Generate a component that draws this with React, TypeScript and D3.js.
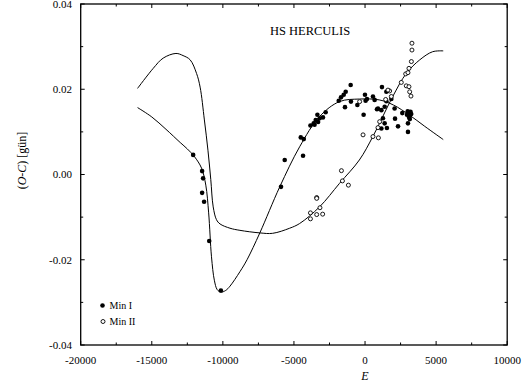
import React from "react";
import * as d3 from "d3";

// Epoch (E) and O-C residuals (days) for HS Her
const minI: [number, number][] = [
  [-12090, 0.0046], [-11460, 0.0008], [-11390, -0.0009], [-11460, -0.0043],
  [-11320, -0.0064], [-10960, -0.0156], [-10140, -0.0272],
  [-5910, -0.0029], [-5650, 0.0034], [-4360, 0.0044], [-4520, 0.0087],
  [-4310, 0.0083], [-3840, 0.0115], [-3610, 0.012], [-3470, 0.0128],
  [-3350, 0.014], [-3190, 0.0132], [-2960, 0.0134], [-2770, 0.0146],
  [-3300, 0.0123], [-3550, 0.0117],
  [-1850, 0.0173], [-1690, 0.0181], [-1500, 0.0187], [-1360, 0.0194],
  [-1010, 0.021], [-1410, 0.0158], [-990, 0.0171], [-540, 0.0163],
  [-100, 0.014], [-4, 0.0187], [136, 0.0177], [40, 0.0173], [558, 0.0183],
  [675, 0.0175], [840, 0.0153], [1190, 0.0205], [910, 0.0155], [1150, 0.0151],
  [1380, 0.0159], [1500, 0.0172], [1500, 0.0194], [1850, 0.0177],
  [1260, 0.0132], [1380, 0.012], [1150, 0.0108], [1540, 0.0109],
  [2080, 0.0155], [2110, 0.0131], [2320, 0.0113], [2620, 0.0144],
  [3020, 0.01], [3020, 0.012], [2950, 0.014], [3050, 0.0145], [3150, 0.0138],
  [3250, 0.0142], [3100, 0.0134], [3200, 0.0147], [3000, 0.0148], [3150, 0.013],
];

const minII: [number, number][] = [
  [-3840, -0.0104], [-3840, -0.009], [-3400, -0.0094], [-2980, -0.0093],
  [-3170, -0.0078], [-3400, -0.0054], [-3400, -0.0056],
  [-1660, 0.0009], [-1590, -0.0015], [-1170, -0.0025],
  [-380, 0.0171], [-140, 0.0093], [558, 0.0089], [940, 0.0086], [910, 0.011],
  [1030, 0.0124], [1730, 0.0196], [1612, 0.0198], [1850, 0.0183], [1450, 0.0176],
  [2550, 0.0216], [2900, 0.0208], [3090, 0.0206], [3140, 0.0194], [3230, 0.0184],
  [2860, 0.0236], [3020, 0.0239], [3090, 0.0249], [3260, 0.0265],
  [3300, 0.0292], [3300, 0.0308],
];

// Fitted O-C model for primary minima
const fitI: [number, number][] = [
  [-16000, 0.0157], [-15000, 0.0135], [-14000, 0.0106], [-13000, 0.0075],
  [-12500, 0.006], [-12000, 0.0042], [-11500, 0.0015], [-11200, -0.0025],
  [-11000, -0.009], [-10800, -0.0193], [-10600, -0.0248], [-10400, -0.027],
  [-10150, -0.0276], [-9800, -0.0272], [-9500, -0.0262], [-8800, -0.0228],
  [-8300, -0.02], [-7400, -0.0137], [-6000, -0.0029], [-4600, 0.0065],
  [-3200, 0.0136], [-1800, 0.0171], [-400, 0.0177], [1000, 0.0175],
  [2000, 0.0163], [3100, 0.014], [4200, 0.0113], [5500, 0.0082],
];

// Fitted O-C model for secondary minima
const fitII: [number, number][] = [
  [-16000, 0.0202], [-14900, 0.0249], [-14200, 0.0273], [-13300, 0.0284],
  [-12800, 0.0279], [-12300, 0.0269], [-11850, 0.0237], [-11600, 0.0205],
  [-11300, 0.0128], [-11050, 0.0057], [-10850, -0.0012], [-10680, -0.0076],
  [-10450, -0.0106], [-10200, -0.0116], [-9500, -0.0126], [-8800, -0.0131],
  [-7400, -0.0137], [-6500, -0.0138], [-5300, -0.0126], [-4600, -0.0115],
  [-3200, -0.0076], [-1800, -0.0021], [-400, 0.0034], [550, 0.0089],
  [1950, 0.0183], [2900, 0.0237], [3850, 0.0269], [4750, 0.0288], [5500, 0.029],
];

const xTicks = [-20000, -15000, -10000, -5000, 0, 5000, 10000];
const xMinor = [-17500, -12500, -7500, -2500, 2500, 7500];
const yTicks = [-0.04, -0.02, 0, 0.02, 0.04];
const yMinor = [-0.03, -0.01, 0.01, 0.03];

const W = 526;
const H = 383;
const left = 80.7;
const right = 507.2;
const top = 4;
const bottom = 345;
const font = "'Liberation Serif', 'Times New Roman', Times, 'DejaVu Serif', serif";

export default function App() {
  const x = d3.scaleLinear().domain([-20000, 10000]).range([left, right]);
  const y = d3.scaleLinear().domain([-0.04, 0.04]).range([bottom, top]);
  const line = d3
    .line<[number, number]>()
    .x((d) => x(d[0]))
    .y((d) => y(d[1]))
    .curve(d3.curveCatmullRom.alpha(0.5));

  const major = 4;
  const minor = 2.5;

  return (
    <svg
      width={W}
      height={H}
      style={{ position: "fixed", left: 0, top: 0, background: "#fff", fontFamily: font }}
    >
      <rect x={0} y={0} width={W} height={H} fill="#fff" />
      {/* fitted curves */}
      <path d={line(fitI) || ""} fill="none" stroke="#000" strokeWidth={1} />
      <path d={line(fitII) || ""} fill="none" stroke="#000" strokeWidth={1} />

      {/* observations */}
      {minI.map((d, i) => (
        <circle key={"a" + i} cx={x(d[0])} cy={y(d[1])} r={2.3} fill="#000" />
      ))}
      {minII.map((d, i) => (
        <circle
          key={"b" + i}
          cx={x(d[0])}
          cy={y(d[1])}
          r={2}
          fill="#fff"
          stroke="#000"
          strokeWidth={0.9}
        />
      ))}

      {/* frame */}
      <rect
        x={left}
        y={top}
        width={right - left}
        height={bottom - top}
        fill="none"
        stroke="#000"
        strokeWidth={1.3}
      />

      {/* x ticks */}
      {xTicks.map((t) => (
        <g key={"xt" + t}>
          <line x1={x(t)} x2={x(t)} y1={bottom} y2={bottom - major} stroke="#000" />
          <line x1={x(t)} x2={x(t)} y1={top} y2={top + major} stroke="#000" />
          <text x={x(t)} y={364} fontSize={11} textAnchor="middle">
            {t}
          </text>
        </g>
      ))}
      {xMinor.map((t) => (
        <g key={"xm" + t}>
          <line x1={x(t)} x2={x(t)} y1={bottom} y2={bottom - minor} stroke="#000" />
          <line x1={x(t)} x2={x(t)} y1={top} y2={top + minor} stroke="#000" />
        </g>
      ))}

      {/* y ticks */}
      {yTicks.map((t) => (
        <g key={"yt" + t}>
          <line x1={left} x2={left + major} y1={y(t)} y2={y(t)} stroke="#000" />
          <line x1={right} x2={right - major} y1={y(t)} y2={y(t)} stroke="#000" />
          <text x={72} y={y(t) + 3.8} fontSize={11} textAnchor="end">
            {t.toFixed(2)}
          </text>
        </g>
      ))}
      {yMinor.map((t) => (
        <g key={"ym" + t}>
          <line x1={left} x2={left + minor} y1={y(t)} y2={y(t)} stroke="#000" />
          <line x1={right} x2={right - minor} y1={y(t)} y2={y(t)} stroke="#000" />
        </g>
      ))}

      {/* axis titles */}
      <text x={x(0)} y={380} fontSize={12} fontStyle="italic" textAnchor="middle">
        E
      </text>
      <text
        transform={`translate(26, ${y(0) - 14}) rotate(-90)`}
        fontSize={12}
        textAnchor="middle"
      >
        (<tspan fontStyle="italic">O-C</tspan>) [gün]
      </text>

      {/* title */}
      <text x={310} y={35} fontSize={12.5} textAnchor="middle">
        HS HERCULIS
      </text>

      {/* legend */}
      <circle cx={102.5} cy={305.5} r={2.3} fill="#000" />
      <text x={109.5} y={309} fontSize={10}>
        Min I
      </text>
      <circle cx={103} cy={321.5} r={2} fill="#fff" stroke="#000" strokeWidth={0.9} />
      <text x={109.5} y={325} fontSize={10}>
        Min II
      </text>
    </svg>
  );
}
